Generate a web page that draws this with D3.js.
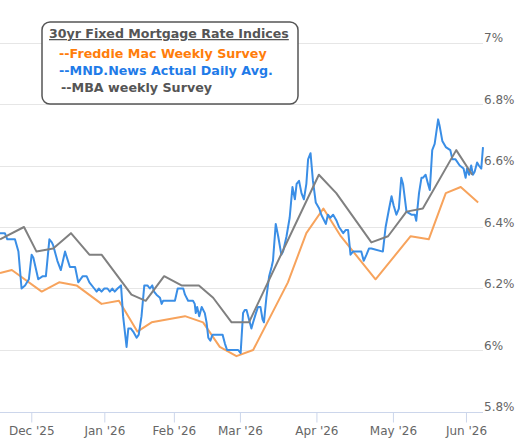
<!DOCTYPE html>
<html>
<head>
<meta charset="utf-8">
<script src="https://cdn.jsdelivr.net/npm/d3@7"></script>
<style>
  body { margin: 0; background: #fff; }
  svg { display: block; font-family: "DejaVu Sans", Verdana, sans-serif; }
</style>
</head>
<body>
<div class="svg-container"></div>
<script>
// x is the trading session number counted from the left edge of the chart
const monthLabels = ["Dec '25", "Jan '26", "Feb '26", "Mar '26", "Apr '26", "May '26", "Jun '26"];
const monthStart = [9, 30, 50, 69, 91, 113, 134];
const rateTicks = [5.8, 6.0, 6.2, 6.4, 6.6, 6.8, 7.0];

// Freddie Mac weekly survey
const freddie = [
  [0, 6.25], [3.4, 6.26], [12, 6.19], [17, 6.22], [22, 6.21], [29.2, 6.15], [34.2, 6.16],
  [39.5, 6.06], [43.6, 6.09], [53.2, 6.11], [58.4, 6.09], [63.2, 6.01], [68, 5.98],
  [72.8, 6.00], [82.8, 6.22], [88.1, 6.38], [93, 6.46], [98, 6.37], [108, 6.23],
  [118.1, 6.37], [123.3, 6.36], [128.2, 6.51], [132.5, 6.53], [137.5, 6.48]
];

// MBA weekly survey
const mba = [
  [0, 6.36], [6.9, 6.40], [10.5, 6.32], [15.3, 6.33], [20.4, 6.38], [25.7, 6.31], [29.2, 6.31],
  [37.8, 6.18], [41.9, 6.16], [47.2, 6.24], [52.2, 6.21], [57.2, 6.21], [61.3, 6.17],
  [66.6, 6.09], [71.6, 6.09], [91.7, 6.57], [96.7, 6.51], [106.8, 6.35], [111.6, 6.37],
  [116.9, 6.45], [121.6, 6.46], [131.2, 6.65], [135.8, 6.57]
];

// MND daily average
const mndDaily = [
  [0, 6.38], [1.4, 6.38], [2.1, 6.36], [4.3, 6.36], [5.3, 6.32], [6.2, 6.20], [7.2, 6.21],
  [8.3, 6.23], [9.1, 6.31], [9.6, 6.30], [11.0, 6.23], [12.3, 6.24], [13.2, 6.24], [14.2, 6.36],
  [14.9, 6.35], [15.3, 6.34], [16.5, 6.29], [17.5, 6.26], [18.7, 6.32], [20.1, 6.27], [21.6, 6.27],
  [22.5, 6.22], [23.8, 6.24], [24.9, 6.24], [25.7, 6.22], [27.1, 6.20], [27.8, 6.19], [28.4, 6.20],
  [29.2, 6.19], [30.0, 6.20], [30.9, 6.20], [31.6, 6.19], [32.3, 6.20], [33.0, 6.19], [33.8, 6.20],
  [34.8, 6.21], [35.4, 6.11], [36.4, 6.01], [36.9, 6.07], [37.6, 6.07], [38.3, 6.06], [39.3, 6.04],
  [39.9, 6.05], [40.7, 6.11], [41.5, 6.21], [42.4, 6.21], [43.1, 6.20], [43.8, 6.21], [44.3, 6.19],
  [45.0, 6.18], [46.0, 6.17], [46.5, 6.15], [46.9, 6.16], [47.9, 6.16], [49.3, 6.16], [50.3, 6.16],
  [51.1, 6.20], [52.0, 6.20], [52.7, 6.20], [53.2, 6.18], [54.1, 6.16], [55.1, 6.16], [55.5, 6.16],
  [56.0, 6.15], [56.3, 6.12], [56.7, 6.14], [57.3, 6.11], [58.0, 6.14], [58.9, 6.12], [59.4, 6.09],
  [59.9, 6.04], [60.5, 6.03], [61.1, 6.05], [62.1, 6.05], [63.2, 6.05], [64.0, 6.05], [64.7, 6.02],
  [65.3, 6.00], [66.6, 6.00], [67.5, 6.00], [68.5, 6.00], [69.2, 5.99], [69.9, 6.12], [70.4, 6.13],
  [70.9, 6.13], [71.6, 6.10], [72.3, 6.07], [72.8, 6.09], [73.6, 6.12], [74.2, 6.14], [74.9, 6.14],
  [75.5, 6.10], [75.9, 6.09], [76.6, 6.17], [77.4, 6.24], [78.1, 6.27], [78.5, 6.29], [79.3, 6.41],
  [80.0, 6.37], [80.9, 6.31], [81.4, 6.32], [82.4, 6.37], [83.3, 6.43], [84.1, 6.53], [84.8, 6.49],
  [85.3, 6.54], [86.0, 6.55], [86.7, 6.51], [87.4, 6.49], [88.1, 6.54], [88.6, 6.62], [89.3, 6.64],
  [90.0, 6.55], [90.8, 6.48], [91.8, 6.46], [92.4, 6.44], [93.7, 6.41], [94.3, 6.44], [95.0, 6.43],
  [95.8, 6.44], [96.8, 6.42], [97.5, 6.40], [98.7, 6.38], [99.4, 6.39], [100.1, 6.39], [100.8, 6.31],
  [101.5, 6.32], [103.9, 6.32], [104.6, 6.29], [105.4, 6.31], [106.1, 6.33], [106.8, 6.33], [110.1, 6.32],
  [110.9, 6.40], [111.9, 6.46], [112.6, 6.50], [113.2, 6.47], [114.0, 6.44], [114.7, 6.46], [115.4, 6.56],
  [115.9, 6.54], [116.9, 6.45], [118.3, 6.44], [119.3, 6.44], [119.7, 6.42], [120.5, 6.51], [121.2, 6.56],
  [121.6, 6.56], [122.4, 6.57], [123.1, 6.54], [123.6, 6.52], [124.3, 6.65], [125.0, 6.67], [126.0, 6.75],
  [126.4, 6.73], [127.2, 6.68], [128.2, 6.66], [129.5, 6.65], [130.1, 6.62], [131.0, 6.62], [132.2, 6.60],
  [133.3, 6.59], [133.9, 6.56], [134.3, 6.59], [134.9, 6.57], [135.5, 6.60], [136.0, 6.57], [136.5, 6.58],
  [137.2, 6.61], [137.7, 6.60], [138.4, 6.59], [138.9, 6.66]
];

const legendTitle = "30yr Fixed Mortgage Rate Indices";
const legendItems = [
  { name: "--Freddie Mac Weekly Survey", color: "#ff7d0a" },
  { name: "--MND.News Actual Daily Avg.", color: "#1f7be8" },
  { name: "--MBA weekly Survey", color: "#555555" }
];

let width = 525;
let height = 448;
let plotRight = 483;

let svg = d3.select(".svg-container")
    .append("svg")
    .attr("width", width)
    .attr("height", height);

let x = d3.scaleLinear().domain([0, 138.9]).range([0, plotRight]);
let y = d3.scaleLinear().domain([5.8, 7.0]).range([411.5, 42.5]);

// gridlines
svg.append("g").selectAll("line")
    .data(rateTicks.filter(d => d > 5.8))
    .enter().append("line")
    .attr("x1", 0).attr("x2", plotRight)
    .attr("y1", d => Math.round(y(d)) + 0.5).attr("y2", d => Math.round(y(d)) + 0.5)
    .attr("stroke", "#e6e6e6").attr("stroke-width", 1);

// y axis labels on the right
let yAxis = svg.append("g")
    .attr("transform", "translate(" + plotRight + ",0)")
    .call(d3.axisRight(y).tickValues(rateTicks).tickSize(0).tickPadding(1)
        .tickFormat(d => d3.format("~g")(+d.toFixed(1)) + "%"));
yAxis.select(".domain").remove();
yAxis.selectAll("text")
    .attr("dy", "-0.08em")
    .attr("fill", "#666")
    .attr("font-size", "12px")
    .attr("font-family", "DejaVu Sans, sans-serif");

// x axis
let xAxis = svg.append("g")
    .attr("transform", "translate(0," + (Math.round(y(5.8)) + 0.5) + ")")
    .call(d3.axisBottom(x).tickValues(monthStart).tickSize(10).tickPadding(4)
        .tickFormat((d, i) => monthLabels[i]));
xAxis.select(".domain").attr("stroke", "#ccd6eb").attr("d", "M0,0H" + plotRight);
xAxis.selectAll(".tick line").attr("stroke", "#ccd6eb");
xAxis.selectAll("text")
    .attr("fill", "#666")
    .attr("font-size", "12px")
    .attr("font-family", "DejaVu Sans, sans-serif");

// series
let line = d3.line().x(d => x(d[0])).y(d => y(d[1]));
svg.append("path").datum(freddie).attr("d", line)
    .attr("fill", "none").attr("stroke", "#f7a35c").attr("stroke-width", 2).attr("stroke-linejoin", "round");
svg.append("path").datum(mndDaily).attr("d", line)
    .attr("fill", "none").attr("stroke", "#3a8ee6").attr("stroke-width", 2).attr("stroke-linejoin", "round");
svg.append("path").datum(mba).attr("d", line)
    .attr("fill", "none").attr("stroke", "#808080").attr("stroke-width", 2).attr("stroke-linejoin", "round");

// legend box
let legend = svg.append("g").attr("transform", "translate(42,22)");
legend.append("rect")
    .attr("x", 0).attr("y", 0).attr("width", 256).attr("height", 82).attr("rx", 8)
    .attr("fill", "#fff").attr("stroke", "#555").attr("stroke-width", 1.5);
legend.append("text")
    .attr("x", 7).attr("y", 16)
    .attr("fill", "#555").attr("font-weight", "bold").attr("font-size", "12.6px")
    .attr("text-decoration", "underline")
    .text(legendTitle);
legend.selectAll(".item")
    .data(legendItems)
    .enter().append("text")
    .attr("class", "item")
    .attr("x", (d, i) => i == 2 ? 19 : 17)
    .attr("y", (d, i) => 35.5 + i * 17.2)
    .attr("fill", d => d.color).attr("font-weight", "bold").attr("font-size", "12.7px")
    .text(d => d.name);
</script>
</body>
</html>
